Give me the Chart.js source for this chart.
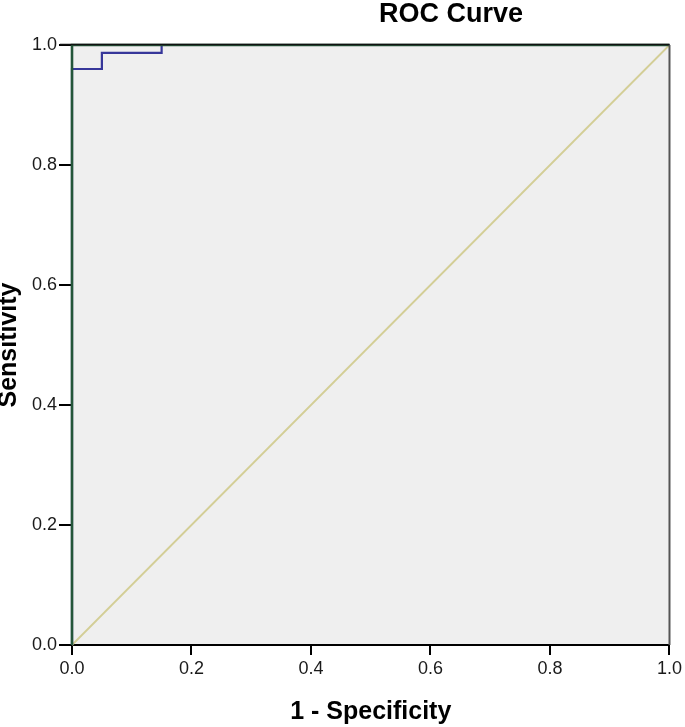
<!DOCTYPE html>
<html>
<head>
<meta charset="utf-8">
<script src="https://cdn.jsdelivr.net/npm/chart.js@4/dist/chart.umd.min.js"></script>
<style>
  html, body { margin: 0; padding: 0; background: #ffffff; }
  #wrap { position: relative; width: 685px; height: 727px; }
  #title {
    position: absolute; left: 451px; top: 0px; transform: translateX(-50%);
    font: bold 27px "Liberation Sans", Arial, sans-serif; line-height: 27px;
    color: #000; white-space: nowrap;
  }
</style>
</head>
<body>
<div id="wrap">
  <canvas id="c" width="685" height="727"></canvas>
  <div id="title">ROC Curve</div>
</div>
<script>
// ---- data ----
const tickValues = [0, 0.2, 0.4, 0.6, 0.8, 1.0];
const blueFpr = [0, 0, 0.05, 0.05, 0.15, 0.15, 1];
const blueTpr = [0, 0.96, 0.96, 0.987, 0.987, 1, 1];
const greenFpr = [0, 0, 1];
const greenTpr = [0, 1, 1];
const refFpr = [0, 1];
const refTpr = [0, 1];
const xTitle = "1 - Specificity";
const yTitle = "Sensitivity";

const toPts = (xs, ys) => xs.map((x, i) => ({x: x, y: ys[i]}));

const plotBg = {
  id: 'plotBg',
  beforeDraw(chart) {
    const {ctx, chartArea: a} = chart;
    ctx.save();
    ctx.fillStyle = '#efefef';
    ctx.fillRect(a.left, a.top, a.right - a.left, a.bottom - a.top);
    ctx.restore();
  },
  afterDatasetsDraw(chart) {
    const {ctx, chartArea: a} = chart;
    ctx.save();
    ctx.strokeStyle = '#555555';
    ctx.lineWidth = 2;
    ctx.beginPath();
    ctx.moveTo(a.right, a.top);
    ctx.lineTo(a.right, a.bottom);
    ctx.stroke();
    ctx.strokeStyle = '#111111';
    ctx.lineWidth = 1.5;
    ctx.beginPath();
    ctx.moveTo(a.left - 12, a.top - 0.5);
    ctx.lineTo(a.right, a.top - 0.5);
    ctx.stroke();
    ctx.restore();
  }
};

const font = "'Liberation Sans', Arial, sans-serif";

new Chart(document.getElementById('c'), {
  type: 'scatter',
  data: {
    datasets: [
      { label: 'g', data: toPts(greenFpr, greenTpr), showLine: true, borderColor: '#24563a',
        borderWidth: 2.6, pointRadius: 0, order: 1, clip: 6 },
      { label: 'b', data: toPts(blueFpr, blueTpr), showLine: true, borderColor: '#37379a',
        borderWidth: 2.2, pointRadius: 0, order: 2, clip: 6 },
      { label: 'r', data: toPts(refFpr, refTpr), showLine: true, borderColor: '#d3ce96',
        borderWidth: 1.8, pointRadius: 0, order: 3, clip: 6 }
    ]
  },
  options: {
    responsive: false,
    animation: false,
    devicePixelRatio: 1,
    layout: { padding: { left: 0, top: 45, right: 14, bottom: 0 } },
    plugins: { legend: { display: false }, tooltip: { enabled: false }, title: { display: false } },
    scales: {
      x: {
        type: 'linear', min: 0, max: 1,
        afterBuildTicks(s) { s.ticks = tickValues.map(v => ({value: v})); },
        afterFit(s) { s.height = 82; },
        grid: { drawOnChartArea: false, drawTicks: true, tickLength: 10, color: '#000', lineWidth: 2 },
        border: { display: true, color: '#000', width: 2 },
        ticks: { padding: 3, color: '#1a1a1a', font: { family: font, size: 18 }, maxRotation: 0,
                 callback: v => v.toFixed(1) },
        title: { display: true, text: xTitle, color: '#000', padding: { top: 0, bottom: 0 },
                 font: { family: font, size: 25, weight: 'bold', lineHeight: 1.2 } }
      },
      y: {
        type: 'linear', min: 0, max: 1,
        afterBuildTicks(s) { s.ticks = tickValues.map(v => ({value: v})); },
        afterFit(s) { s.width = 72; },
        grid: { drawOnChartArea: false, drawTicks: true, tickLength: 13, color: '#000', lineWidth: 2 },
        border: { display: true, color: '#000', width: 2 },
        ticks: { padding: 2, color: '#1a1a1a', font: { family: font, size: 18 },
                 callback: v => v.toFixed(1) },
        title: { display: true, text: yTitle, color: '#000', padding: 0,
                 font: { family: font, size: 25, weight: 'bold', lineHeight: 0.7 } }
      }
    }
  },
  plugins: [plotBg]
});
</script>
</body>
</html>
